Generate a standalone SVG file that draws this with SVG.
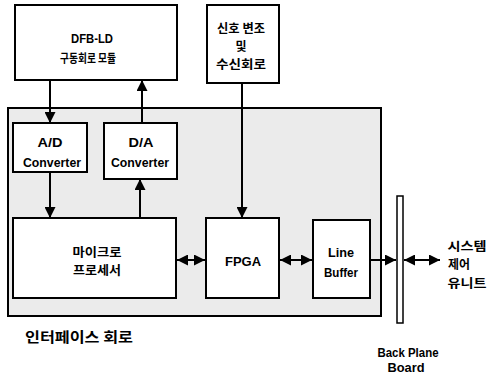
<svg xmlns="http://www.w3.org/2000/svg" width="487" height="374" viewBox="0 0 487 374">
<style>
.box{fill:#fff;stroke:#000;stroke-width:2}
.iface{fill:#ebebeb;stroke:#000;stroke-width:2}
.t{font-family:"Liberation Sans","Noto Sans CJK KR",sans-serif;font-size:12px;font-weight:bold;text-anchor:middle;fill:#000}
.k{font-family:"Noto Sans CJK KR","Liberation Sans",sans-serif;font-size:12px;font-weight:bold;text-anchor:middle;fill:#000}
.c line{stroke:#000;stroke-width:2}
</style>
<defs>
<marker id="ah" viewBox="0 0 10 10" refX="10" refY="5" markerWidth="5.5" markerHeight="5.5" orient="auto-start-reverse" markerUnits="strokeWidth">
<path d="M0,0 L10,5 L0,10 z" fill="#000"/>
</marker>
</defs>
<g id="interface">
<rect class="iface" x="8" y="108" width="373" height="208"/>
<text class="k" x="79" y="342" style="font-size:14px" textLength="108" lengthAdjust="spacingAndGlyphs">인터페이스 회로</text>
</g>
<g id="dfb">
<rect class="box" x="15" y="5" width="162" height="75"/>
<text class="t" x="92" y="43" style="font-size:13px" textLength="42" lengthAdjust="spacingAndGlyphs">DFB-LD</text>
<text class="k" x="88" y="63" textLength="56" lengthAdjust="spacingAndGlyphs">구동회로 모듈</text>
</g>
<g id="signal">
<rect class="box" x="207" y="5" width="72" height="78"/>
<text class="k" x="241" y="33" textLength="48" lengthAdjust="spacingAndGlyphs">신호 변조</text>
<text class="k" x="241" y="51">및</text>
<text class="k" x="241" y="69" textLength="50" lengthAdjust="spacingAndGlyphs">수신회로</text>
</g>
<g id="ad">
<rect class="box" x="13" y="123" width="74" height="49"/>
<text class="t" x="50" y="147" textLength="25" lengthAdjust="spacingAndGlyphs">A/D</text>
<text class="t" x="52" y="167" textLength="58" lengthAdjust="spacingAndGlyphs">Converter</text>
</g>
<g id="da">
<rect class="box" x="104" y="123" width="73" height="56"/>
<text class="t" x="141" y="147" textLength="25" lengthAdjust="spacingAndGlyphs">D/A</text>
<text class="t" x="140" y="167" textLength="58" lengthAdjust="spacingAndGlyphs">Converter</text>
</g>
<g id="mpu">
<rect class="box" x="13" y="218" width="163" height="80"/>
<text class="k" x="97" y="257" textLength="49" lengthAdjust="spacingAndGlyphs">마이크로</text>
<text class="k" x="97" y="275" textLength="48" lengthAdjust="spacingAndGlyphs">프로세서</text>
</g>
<g id="fpga">
<rect class="box" x="206" y="218" width="73" height="80"/>
<text class="t" x="243" y="266" textLength="36" lengthAdjust="spacingAndGlyphs">FPGA</text>
</g>
<g id="linebuf">
<rect class="box" x="313" y="220" width="57" height="78"/>
<text class="t" x="341" y="257" textLength="26" lengthAdjust="spacingAndGlyphs">Line</text>
<text class="t" x="341" y="277" textLength="34" lengthAdjust="spacingAndGlyphs">Buffer</text>
</g>
<g id="backplane">
<rect x="397" y="196" width="6" height="127" fill="#fff" stroke="#000" stroke-width="1.5"/>
<text class="t" x="408" y="357" textLength="61" lengthAdjust="spacingAndGlyphs">Back Plane</text>
<text class="t" x="406" y="372" textLength="37" lengthAdjust="spacingAndGlyphs">Board</text>
</g>
<g id="system">
<text class="k" x="467" y="251" textLength="39" lengthAdjust="spacingAndGlyphs">시스템</text>
<text class="k" x="459" y="269" textLength="22" lengthAdjust="spacingAndGlyphs">제어</text>
<text class="k" x="467" y="288" textLength="39" lengthAdjust="spacingAndGlyphs">유니트</text>
</g>
<g id="connectors" class="c">
<line x1="50" y1="80" x2="50" y2="123" marker-end="url(#ah)"/>
<line x1="142" y1="123" x2="142" y2="80" marker-end="url(#ah)"/>
<line x1="242" y1="83" x2="242" y2="218" marker-end="url(#ah)"/>
<line x1="50" y1="172" x2="50" y2="218" marker-end="url(#ah)"/>
<line x1="140" y1="218" x2="140" y2="179" marker-end="url(#ah)"/>
<line x1="177" y1="260" x2="205" y2="260" marker-start="url(#ah)" marker-end="url(#ah)"/>
<line x1="280" y1="260" x2="312" y2="260" marker-start="url(#ah)" marker-end="url(#ah)"/>
<line x1="371" y1="260" x2="396" y2="260" marker-end="url(#ah)"/>
<line x1="404" y1="260" x2="440" y2="260" marker-start="url(#ah)" marker-end="url(#ah)"/>
</g>
</svg>
